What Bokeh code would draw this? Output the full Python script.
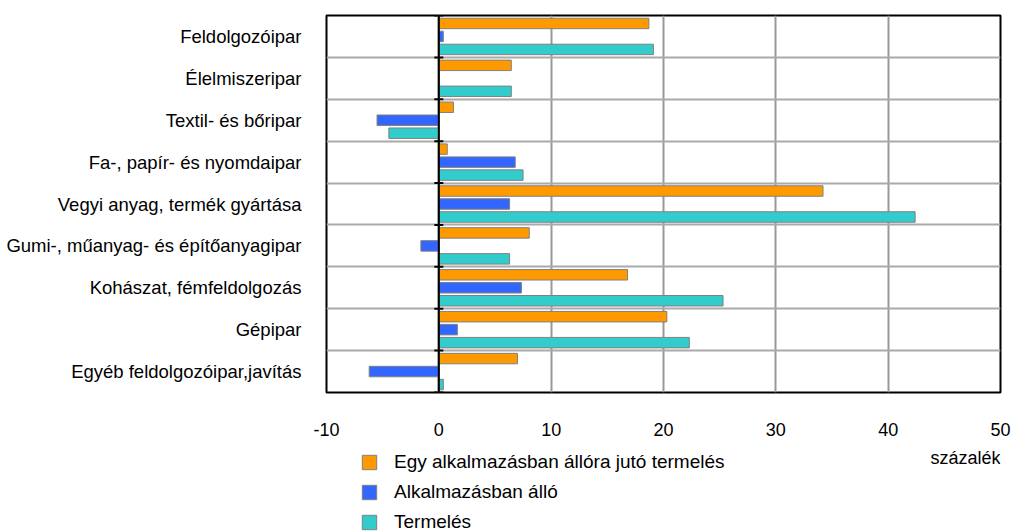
from bokeh.plotting import figure
from bokeh.layouts import column
from bokeh.models import (FixedTicker, Range1d, Span, Label, Legend, LegendItem,
                          ColumnDataSource)
from bokeh.embed import file_html
from bokeh.resources import INLINE

# ---- data ----
categories = [
    "Feldolgozóipar",
    "Élelmiszeripar",
    "Textil- és bőripar",
    "Fa-, papír- és nyomdaipar",
    "Vegyi anyag, termék gyártása",
    "Gumi-, műanyag- és építőanyagipar",
    "Kohászat, fémfeldolgozás",
    "Gépipar",
    "Egyéb feldolgozóipar,javítás",
]
per_employee = [18.7, 6.45, 1.3, 0.75, 34.2, 8.05, 16.8, 20.3, 7.0]
employees = [0.4, 0.0, -5.5, 6.8, 6.3, -1.6, 7.35, 1.65, -6.2]
production = [19.1, 6.45, -4.45, 7.5, 42.4, 6.3, 25.3, 22.3, 0.4]
series_names = ["Egy alkalmazásban állóra jutó termelés", "Alkalmazásban álló", "Termelés"]
series_colors = ["#FF9900", "#3366FF", "#33CCCC"]
x_ticks = [-10, 0, 10, 20, 30, 40, 50]
x_unit = "százalék"

FONT = "Liberation Sans"
n = len(categories)
centers = [n - i - 0.5 for i in range(n)]
boundaries = list(range(0, n + 1))
offsets = [0.31, 0.0, -0.31]
bar_h = 0.25
BAR_LINE = "#808080"
LEFT, RIGHT = 326, 14

p = figure(frame_width=674, frame_height=377,
           min_border_left=LEFT, min_border_right=RIGHT,
           min_border_top=15, min_border_bottom=48,
           x_range=Range1d(x_ticks[0], x_ticks[-1]), y_range=Range1d(0, n),
           output_backend="svg", toolbar_location=None,
           background_fill_color="white", border_fill_color="white")

p.outline_line_color = "black"
p.outline_line_width = 2

# x axis
p.xaxis.ticker = FixedTicker(ticks=x_ticks)
p.xaxis.major_label_overrides = {t: str(t) for t in x_ticks}
p.xaxis.axis_line_color = None
p.xaxis.major_tick_line_color = None
p.xaxis.minor_tick_line_color = None
p.xaxis.major_label_standoff = 24
p.xaxis.major_label_text_font = FONT
p.xaxis.major_label_text_font_size = "18px"
p.xaxis.major_label_text_color = "black"

# y axis (categories)
p.yaxis.ticker = FixedTicker(ticks=centers)
p.yaxis.major_label_overrides = {c: name for c, name in zip(centers, categories)}
p.yaxis.axis_line_color = None
p.yaxis.major_tick_line_color = None
p.yaxis.minor_tick_line_color = None
p.yaxis.major_label_standoff = 19
p.yaxis.major_label_text_font = FONT
p.yaxis.major_label_text_font_size = "18.5px"
p.yaxis.major_label_text_color = "black"

# grids
p.xgrid.grid_line_color = "#999999"
p.xgrid.grid_line_width = 2
p.ygrid.ticker = FixedTicker(ticks=boundaries[1:-1])
p.ygrid.grid_line_color = "#aaaaaa"
p.ygrid.grid_line_width = 2

sources = []
for vals, off, col in zip([per_employee, employees, production], offsets, series_colors):
    src = ColumnDataSource(dict(y=[c + off for c in centers], right=vals, left=[0] * n))
    sources.append(src)
    p.hbar(y="y", left="left", right="right", height=bar_h, source=src,
           fill_color=col, line_color=BAR_LINE, line_width=1)

# zero line with crossing ticks
p.add_layout(Span(location=0, dimension="height", line_color="black", line_width=2))
p.scatter(x=[0] * len(boundaries), y=boundaries, marker="dash", size=9,
          line_color="black", line_width=2)

# ---- lower panel (frame aligned with the main plot): unit label + legend ----
H = 91
q = figure(frame_width=674, height=H,
           min_border_left=LEFT, min_border_right=RIGHT, min_border_top=0, min_border_bottom=0,
           x_range=p.x_range, y_range=Range1d(-H, 0),
           x_axis_location=None, y_axis_location=None,
           output_backend="svg", toolbar_location=None,
           background_fill_color="white", border_fill_color="white")
q.outline_line_color = None
q.xgrid.visible = False
q.ygrid.visible = False

leg_renderers = []
for src, col in zip(sources, series_colors):
    # legend swatches only: hidden renderers sharing the series' data
    r = q.hbar(y="y", left="left", right="right", height=bar_h, source=src,
               fill_color=col, line_color=BAR_LINE, line_width=1, visible=False)
    leg_renderers.append(r)

q.add_layout(Label(x=x_ticks[-1], y=-17, text=x_unit, text_align="right",
                   text_baseline="middle", text_font=FONT, text_font_size="18px",
                   text_color="black"))

legend = Legend(items=[LegendItem(label=nm, renderers=[r]) for nm, r in zip(series_names, leg_renderers)],
                location=(34, -2), orientation="vertical",
                glyph_width=18, glyph_height=18, label_height=20, spacing=8,
                label_standoff=16, padding=0, margin=0,
                border_line_color=None, background_fill_alpha=0,
                inactive_fill_alpha=0,
                label_text_font=FONT, label_text_font_size="19px", label_text_color="black")
q.add_layout(legend)

layout = column(p, q, spacing=0)
open("out.html", "w").write(file_html(layout, INLINE))
